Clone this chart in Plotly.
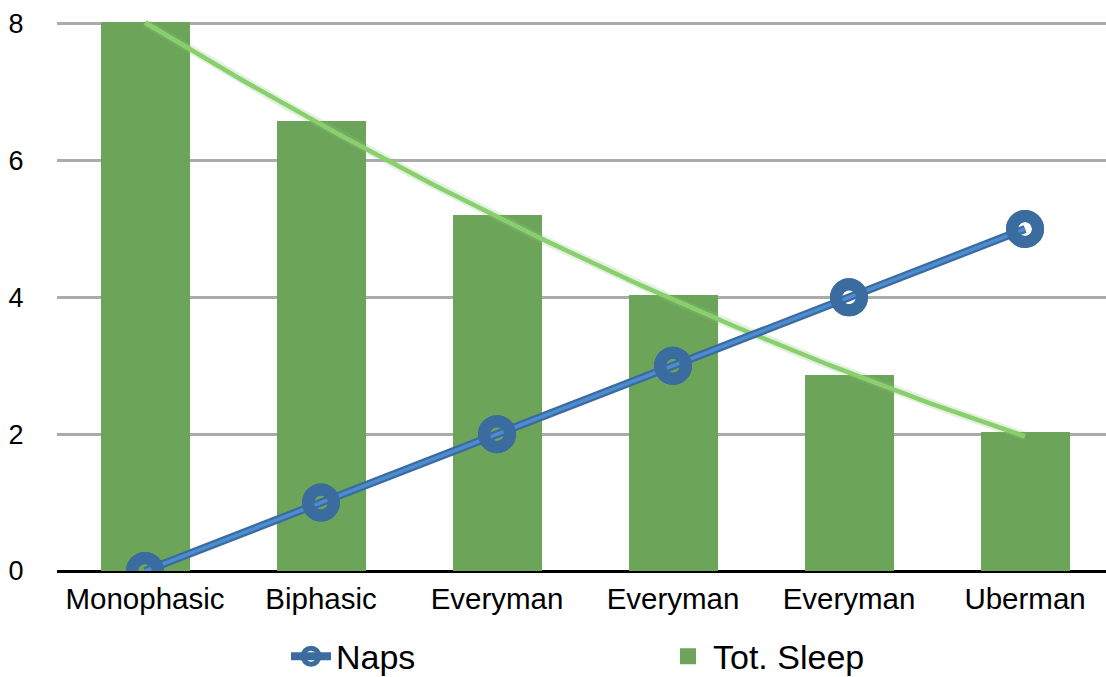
import numpy as np
import plotly.graph_objects as go

categories = ["Monophasic", "Biphasic", "Everyman", "Everyman", "Everyman", "Uberman"]
naps = [0, 1, 2, 3, 4, 5]
tot_sleep = [8.0, 6.55, 5.17, 4.0, 2.83, 2.0]
y_ticks = [0, 2, 4, 6, 8]

x_pos = list(range(len(categories)))

# polynomial (order 2) trendline of total sleep, as in the source chart
coef = np.polyfit(x_pos, tot_sleep, 2)
x_fit = np.linspace(x_pos[0], x_pos[-1], 120)
y_fit = np.polyval(coef, x_fit)

FONT = "Liberation Sans, Arial, Helvetica, sans-serif"
BAR = "#6CA55A"
DARK = "#3B6C9F"
LIGHT = "#4E8CD2"
TREND = "#8ACF6E"

fig = go.Figure()

fig.add_trace(go.Bar(
    x=x_pos, y=tot_sleep, name="Tot. Sleep", width=0.483,
    marker=dict(color=BAR, line=dict(color=BAR, width=4)),
    legendrank=2,
))

fig.add_trace(go.Scatter(
    x=x_fit, y=y_fit, mode="lines", showlegend=False, hoverinfo="skip",
    line=dict(color="rgba(140,200,120,0.25)", width=9),
))
fig.add_trace(go.Scatter(
    x=x_fit, y=y_fit, mode="lines", showlegend=False, hoverinfo="skip",
    line=dict(color=TREND, width=4.5),
))

fig.add_trace(go.Scatter(
    x=x_pos, y=naps, name="Naps", mode="lines+markers",
    line=dict(color=DARK, width=8),
    marker=dict(symbol="circle-open", size=26, color=DARK, line=dict(color=DARK, width=12)),
    legendrank=1,
))
fig.add_trace(go.Scatter(
    x=x_pos, y=naps, mode="lines", showlegend=False, hoverinfo="skip",
    line=dict(color=LIGHT, width=3.5),
))
fig.add_trace(go.Scatter(
    x=x_pos, y=naps, mode="markers", showlegend=False, hoverinfo="skip",
    marker=dict(symbol="circle-open", size=26, color=DARK, line=dict(color=DARK, width=12)),
))

fig.update_layout(
    width=1106, height=677,
    margin=dict(l=57, r=0, t=10, b=106, autoexpand=False),
    paper_bgcolor="white", plot_bgcolor="white",
    font=dict(family=FONT, color="black"),
    bargap=0,
    showlegend=True,
    legend=dict(
        orientation="h", x=0.2183, xanchor="left", y=-0.1526, yanchor="middle",
        font=dict(size=34, family=FONT), itemsizing="trace", itemwidth=40,
        entrywidth=322, entrywidthmode="pixels", traceorder="normal",
    ),
    xaxis=dict(
        range=[-0.5, 5.46], tickmode="array", tickvals=x_pos, ticktext=categories,
        showgrid=False, zeroline=False, showline=False,
        ticks="outside", ticklen=2, tickcolor="rgba(0,0,0,0)",
        tickfont=dict(size=29.5, family=FONT, color="black"),
    ),
    yaxis=dict(
        range=[0, 8.2], tickmode="array", tickvals=y_ticks,
        showgrid=True, gridcolor="#ABABAB", gridwidth=2.5,
        zeroline=True, zerolinecolor="black", zerolinewidth=2.5,
        showline=False,
        ticks="outside", ticklen=27, tickcolor="rgba(0,0,0,0)",
        tickfont=dict(size=27, family=FONT, color="black"),
    ),
)

fig.write_html("out.html")
